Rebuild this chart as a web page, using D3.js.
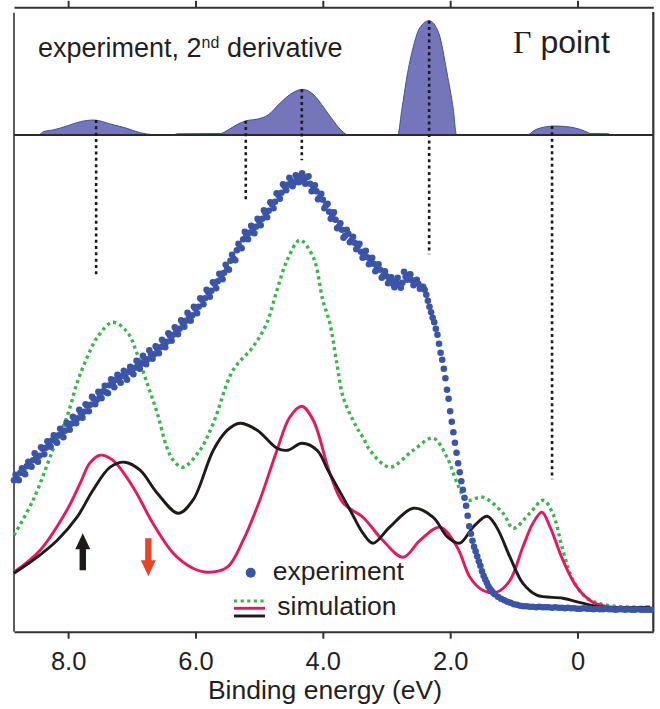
<!DOCTYPE html>
<html>
<head>
<meta charset="utf-8">
<script src="https://cdn.jsdelivr.net/npm/d3@7"></script>
<style>
  body { margin: 0; background: #fff; }
  text { font-family: "Liberation Sans", Arial, Helvetica, sans-serif; fill: #231f20; }
</style>
</head>
<body>
<div id="chart"></div>
<script>
// Axis ticks (binding energy, eV)
const xTicks = [8, 6, 4, 2, 0];
const xTickLabels = ["8.0", "6.0", "4.0", "2.0", "0"];

// Top panel: 2nd derivative of the experiment [energy, arb. units]
const secondDerivative = [
  [8.60, 0], [8.46, 0], [8.39, 2.9], [8.24, 4.3], [8.02, 7.8], [7.81, 11.6], [7.59, 13.0],
  [7.34, 9.6], [7.08, 5.8], [6.87, 2.0], [6.68, 0.3], [6.60, 0], [6.35, 0], [6.29, 1.0],
  [5.61, 1.3], [5.49, 4.3], [5.36, 8.7], [5.20, 12.4], [5.02, 13.9], [4.86, 17.4],
  [4.67, 27.8], [4.48, 36.5], [4.32, 39.7], [4.14, 34.8], [3.98, 23.5], [3.82, 11.3],
  [3.70, 3.5], [3.60, 0], [2.825, 0], [2.76, 21.7], [2.68, 50.4], [2.58, 76.5], [2.48, 93.0],
  [2.33, 99.4], [2.18, 88.7], [2.05, 53.9], [1.95, 21.7], [1.90, 0], [0.79, 0], [0.67, 4.3],
  [0.51, 7.0], [0.36, 7.8], [0.20, 7.4], [0.04, 6.1], [-0.11, 3.5], [-0.21, 1.3],
  [-0.48, 1.1], [-0.54, 0], [-1.19, 0]
];

// Peaks marked by dotted lines: energy, height in top panel, lower end in main panel
const peakEnergy = [7.56, 5.21, 4.33, 2.33, 0.40];
const peakHeight = [13.0, 12.4, 39.7, 99.4, 7.8];
const peakLineEnd = [71.1, 85.8, 94.3, 75.5, 30.5];

// Experiment (blue dots) [energy, intensity]
const experiment = [
  [8.85,30.3],[8.80,30.6],[8.75,31.8],[8.70,32.0],[8.65,33.1],[8.60,33.2],[8.55,34.3],[8.50,34.9],
  [8.45,35.2],[8.40,36.6],[8.35,36.8],[8.30,37.4],[8.25,38.3],[8.20,38.2],[8.15,39.3],[8.10,39.6],
  [8.05,40.2],[8.00,41.4],[7.95,41.6],[7.90,42.5],[7.85,42.7],[7.80,43.8],[7.75,44.0],[7.70,45.2],
  [7.65,45.4],[7.60,46.6],[7.55,46.4],[7.50,47.3],[7.45,48.1],[7.40,47.9],[7.35,49.3],[7.30,49.6],
  [7.25,50.4],[7.20,50.3],[7.15,51.2],[7.10,51.0],[7.05,52.0],[7.00,51.9],[6.95,52.8],[6.90,53.4],
  [6.85,53.7],[6.80,54.6],[6.75,54.5],[6.70,55.6],[6.65,55.5],[6.60,56.6],[6.55,56.9],[6.50,57.8],
  [6.45,58.0],[6.40,59.2],[6.35,59.4],[6.30,60.3],[6.25,60.6],[6.20,61.7],[6.15,62.2],[6.10,63.0],
  [6.05,63.3],[6.00,64.6],[5.95,65.0],[5.90,66.4],[5.85,66.7],[5.80,67.9],[5.75,68.2],[5.70,69.6],
  [5.65,70.1],[5.60,71.2],[5.55,71.8],[5.50,72.6],[5.45,74.2],[5.40,74.6],[5.35,76.3],[5.30,76.9],
  [5.25,78.5],[5.20,79.3],[5.15,79.8],[5.10,80.6],[5.05,81.0],[5.00,82.1],[4.95,82.6],[4.90,83.7],
  [4.85,84.2],[4.80,85.5],[4.75,86.0],[4.70,87.4],[4.65,87.8],[4.60,89.1],[4.55,89.4],[4.50,90.2],
  [4.45,89.8],[4.40,90.6],[4.35,91.2],[4.30,90.4],[4.25,90.9],[4.20,89.6],[4.15,88.6],[4.10,88.1],
  [4.05,86.9],[4.00,86.4],[3.95,85.3],[3.90,84.0],[3.85,83.3],[3.80,82.4],[3.75,81.0],[3.70,80.4],
  [3.65,79.2],[3.60,79.6],[3.55,78.3],[3.50,77.8],[3.45,77.2],[3.40,76.0],[3.35,75.6],[3.30,74.9],
  [3.25,74.1],[3.20,73.6],[3.15,72.6],[3.10,72.4],[3.05,71.2],[3.00,71.1],[2.95,70.4],[2.90,69.6],
  [2.85,70.2],[2.80,69.4],[2.75,69.8],[2.70,71.0],[2.65,71.4],[2.60,70.3],[2.55,69.9],[2.50,69.6],
  [2.45,69.0],[2.40,68.4],[2.375,67.4],[2.35,66.2],[2.325,65.0],[2.30,63.9],[2.275,62.8],[2.25,61.9],
  [2.225,60.6],[2.20,59.4],[2.175,57.6],[2.15,55.8],[2.125,54.4],[2.10,52.6],[2.075,50.7],[2.05,48.4],
  [2.025,46.6],[2.00,44.1],[1.975,42.0],[1.95,39.9],[1.925,37.8],[1.90,35.8],[1.875,33.7],[1.85,31.9],
  [1.825,30.1],[1.80,28.4],[1.775,26.8],[1.75,25.2],[1.725,23.2],[1.70,21.1],[1.675,19.6],[1.65,18.2],
  [1.625,17.0],[1.60,16.1],[1.575,15.1],[1.55,14.1],[1.525,13.2],[1.50,12.1],[1.475,11.2],[1.45,10.5],
  [1.425,9.8],[1.40,9.1],[1.375,8.6],[1.35,8.2],[1.325,7.8],[1.30,7.5],[1.25,7.0],[1.20,6.6],
  [1.15,6.3],[1.10,6.0],[1.05,5.8],[1.00,5.5],[0.95,5.4],[0.90,5.2],[0.85,5.1],[0.80,5.1],
  [0.75,5.0],[0.70,5.0],[0.65,4.9],[0.60,5.0],[0.55,4.9],[0.50,4.9],[0.45,4.9],[0.40,4.8],
  [0.35,4.9],[0.30,4.8],[0.25,4.8],[0.20,4.7],[0.15,4.8],[0.10,4.7],[0.05,4.7],[0.00,4.6],
  [-0.05,4.6],[-0.10,4.7],[-0.15,4.6],[-0.20,4.6],[-0.25,4.5],[-0.30,4.6],[-0.35,4.5],[-0.40,4.5],
  [-0.45,4.6],[-0.50,4.5],[-0.55,4.5],[-0.60,4.4],[-0.65,4.5],[-0.70,4.5],[-0.75,4.4],[-0.80,4.5],
  [-0.85,4.4],[-0.90,4.4],[-0.95,4.5],[-1.00,4.4],[-1.05,4.4],[-1.10,4.4],[-1.15,4.4]
];

// Experiment, in-between points that give the scatter band its width [energy, intensity]
const experimentScatter = [
  [8.825,31.4],[8.775,30.3],[8.725,32.7],[8.675,31.5],[8.625,34.0],[8.575,33.0],[8.525,35.7],[8.475,34.0],
  [8.425,36.9],[8.375,35.5],[8.325,38.1],[8.275,37.0],[8.225,39.3],[8.175,37.8],[8.125,40.6],[8.075,38.9],
  [8.025,41.8],[7.975,40.4],[7.925,43.0],[7.875,41.7],[7.825,44.4],[7.775,42.8],[7.725,45.5],[7.675,44.1],
  [7.625,47.0],[7.575,45.5],[7.525,48.0],[7.475,46.7],[7.425,49.2],[7.375,47.7],[7.325,50.5],[7.275,48.9],
  [7.225,51.4],[7.175,49.8],[7.125,52.2],[7.075,50.4],[7.025,53.0],[6.975,51.5],[6.925,54.2],[6.875,52.6],
  [6.825,55.2],[6.775,53.5],[6.725,56.3],[6.675,54.6],[6.625,57.1],[6.575,55.7],[6.525,58.4],[6.475,56.9],
  [6.425,59.7],[6.375,58.2],[6.325,60.9],[6.275,59.5],[6.225,62.3],[6.175,61.0],[6.125,63.8],[6.075,62.2],
  [6.025,65.0],[5.975,63.7],[5.925,66.7],[5.875,65.5],[5.825,68.4],[5.775,67.0],[5.725,69.9],[5.675,68.7],
  [5.625,71.6],[5.575,70.5],[5.525,73.4],[5.475,72.4],[5.425,75.4],[5.375,74.3],[5.325,77.6],[5.275,76.7],
  [5.225,80.0],[5.175,78.5],[5.125,81.2],[5.075,79.7],[5.025,82.6],[4.975,81.3],[4.925,84.3],[4.875,82.9],
  [4.825,85.9],[4.775,84.7],[4.725,87.7],[4.675,86.6],[4.625,89.5],[4.575,88.3],[4.525,90.8],[4.475,89.1],
  [4.425,91.3],[4.375,89.9],[4.325,91.7],[4.275,89.6],[4.225,91.1],[4.175,88.1],[4.125,89.3],[4.075,86.5],
  [4.025,87.6],[3.975,84.7],[3.925,85.6],[3.875,82.6],[3.825,83.9],[3.775,80.7],[3.725,81.7],[3.675,78.8],
  [3.625,80.4],[3.575,77.9],[3.525,79.0],[3.475,76.5],[3.425,77.6],[3.375,74.8],[3.325,76.2],[3.275,73.5],
  [3.225,74.8],[3.175,72.1],[3.125,73.5],[3.075,70.8],[3.025,72.1],[2.975,69.7],[2.925,70.9],[2.875,68.9],
  [2.825,70.8],[2.775,68.8],[2.725,72.0],[2.675,70.4],[2.625,71.5],[2.575,69.3],[2.525,70.4],[2.475,68.6],
  [2.425,69.0]
];

// Simulations [energy, intensity]
const simGreen = [
  [8.85,19.3],[8.55,26.3],[8.24,36.3],[8.02,42.9],[7.86,49.7],[7.70,54.9],[7.54,58.9],[7.30,61.9],
  [7.07,59.9],[6.92,55.7],[6.76,49.7],[6.60,43.7],[6.45,36.9],[6.35,34.3],[6.20,32.9],[5.93,36.3],
  [5.72,41.7],[5.41,52.3],[5.10,56.9],[4.88,61.7],[4.72,68.3],[4.56,74.3],[4.36,78.3],[4.15,74.9],
  [4.00,66.3],[3.89,61.7],[3.78,53.7],[3.68,46.9],[3.47,40.9],[3.37,38.9],[3.26,36.3],[2.95,32.9],
  [2.58,36.3],[2.27,38.7],[2.05,34.9],[1.89,29.7],[1.74,26.3],[1.49,26.9],[1.17,23.7],[1.01,20.7],
  [0.75,23.7],[0.54,26.3],[0.39,23.7],[0.23,16.3],[0.07,10.3],[-0.15,6.7],[-0.46,5.3],[-1.14,4.9]
];
const simPink = [
  [8.85,11.9],[8.44,16.3],[8.02,24.3],[7.81,29.7],[7.66,33.7],[7.50,35.3],[7.30,34.3],[6.98,28.9],
  [6.67,21.7],[6.35,15.7],[6.04,12.7],[5.80,11.9],[5.50,12.9],[5.25,18.3],[4.99,26.3],[4.72,36.3],
  [4.52,42.9],[4.33,45.1],[4.15,42.3],[3.89,31.7],[3.68,25.7],[3.37,22.9],[3.06,18.3],[2.74,14.9],
  [2.47,18.3],[2.16,20.9],[1.89,16.9],[1.69,10.9],[1.49,8.3],[1.27,7.9],[1.06,10.3],[0.86,16.9],
  [0.70,21.7],[0.56,23.9],[0.43,20.9],[0.23,14.3],[0.01,8.9],[-0.24,5.9],[-0.55,4.9],[-1.14,4.9]
];
const simBlack = [
  [8.85,11.7],[8.55,14.3],[8.17,18.3],[7.86,22.9],[7.61,28.3],[7.34,32.9],[7.11,33.9],[6.87,32.3],
  [6.60,27.7],[6.27,23.7],[6.04,26.3],[5.72,36.3],[5.50,40.3],[5.30,41.7],[5.03,40.3],[4.72,36.7],
  [4.55,36.3],[4.33,37.7],[4.09,36.3],[3.92,32.3],[3.57,24.3],[3.37,19.7],[3.21,17.7],[2.95,20.9],
  [2.58,24.7],[2.27,22.9],[2.04,18.9],[1.85,17.7],[1.64,20.9],[1.42,23.1],[1.27,20.9],[1.06,14.9],
  [0.86,9.7],[0.64,7.3],[0.23,6.7],[-0.08,5.7],[-0.40,4.9],[-1.14,4.9]
];

// Arrow annotations: energy, tail intensity, tip intensity
const arrows = [
  { e: 7.77, from: 12.3, to: 19.7, color: "#1f1a17" },
  { e: 6.74, from: 18.7, to: 11.1, color: "#e8442a" }
];

const W = 660, H = 709;
const svg = d3.select("#chart").append("svg").attr("width", W).attr("height", H);

const x = d3.scaleLinear().domain([8.85, -1.19]).range([14, 653.3]);
const y = d3.scaleLinear().domain([0, 100]).range([631.7, 131.7]);
const yTop = d3.scaleLinear().domain([0, 100]).range([135, 20]);

// Top panel: 2nd derivative filled
const area = d3.area()
  .x(d => x(d[0])).y0(yTop(0)).y1(d => yTop(d[1]))
  .curve(d3.curveMonotoneX);
svg.append("path").datum(secondDerivative)
  .attr("d", area)
  .attr("fill", "#7476b9")
  .attr("stroke", "#3d4f9f")
  .attr("stroke-width", 1);

// Top panel baseline
svg.append("line")
  .attr("x1", 14).attr("x2", 653.3).attr("y1", yTop(0)).attr("y2", yTop(0))
  .attr("stroke", "#2b2b2b").attr("stroke-width", 1.8);

// Frame sides
svg.append("line").attr("x1", 14).attr("x2", 14).attr("y1", 12.7).attr("y2", 631.7)
  .attr("stroke", "#333").attr("stroke-width", 1.6);
svg.append("line").attr("x1", 653.3).attr("x2", 653.3).attr("y1", 12).attr("y2", 631.7)
  .attr("stroke", "#333").attr("stroke-width", 2.2);

// Axes
const bottomAxis = svg.append("g").attr("transform", "translate(0,631.7)")
  .call(d3.axisBottom(x).tickValues(xTicks).tickFormat((d, i) => xTickLabels[i]).tickSize(7).tickSizeOuter(0));
const topAxis = svg.append("g").attr("transform", "translate(0,7.3)")
  .call(d3.axisTop(x).tickValues(xTicks).tickFormat("").tickSize(6.5).tickSizeOuter(0));
[bottomAxis, topAxis].forEach(g => {
  g.select(".domain").attr("stroke", "#333").attr("stroke-width", 2);
  g.selectAll(".tick line").attr("stroke", "#333").attr("stroke-width", 2);
});
bottomAxis.selectAll(".tick text")
  .attr("y", 38.5).attr("dy", null)
  .style("font-size", "25.5px")
  .style("font-family", "'Liberation Sans', Arial, sans-serif")
  .attr("fill", "#231f20");

svg.append("text")
  .attr("x", 325).attr("y", 699)
  .attr("text-anchor", "middle")
  .style("font-size", "26.5px")
  .text("Binding energy (eV)");

// Dotted peak markers
peakEnergy.forEach((e, i) => {
  svg.append("line")
    .attr("x1", x(e)).attr("x2", x(e))
    .attr("y1", yTop(peakHeight[i])).attr("y2", y(peakLineEnd[i]))
    .attr("stroke", "#1a1a1a").attr("stroke-width", 2.6)
    .attr("stroke-dasharray", "3,3.3");
});

// Simulation curves
const line = d3.line()
  .x(d => x(d[0])).y(d => y(d[1]))
  .curve(d3.curveCatmullRom.alpha(0.5));

svg.append("path").datum(simGreen).attr("d", line)
  .attr("fill", "none").attr("stroke", "#3cb54a").attr("stroke-width", 3.4)
  .attr("stroke-dasharray", "3.2,3.4");
svg.append("path").datum(simPink).attr("d", line)
  .attr("fill", "none").attr("stroke", "#e8175d").attr("stroke-width", 2.9);
svg.append("path").datum(simBlack).attr("d", line)
  .attr("fill", "none").attr("stroke", "#1f1a17").attr("stroke-width", 2.9);

// Experiment dots
svg.append("g").selectAll("circle")
  .data(experiment.concat(experimentScatter)).enter()
  .append("circle")
  .attr("cx", d => x(d[0])).attr("cy", d => y(d[1]))
  .attr("r", 3.3)
  .attr("fill", "#3a55a8");

// Arrows
arrows.forEach(a => {
  const cx = x(a.e), y0 = y(a.from), y1 = y(a.to);
  const s = Math.sign(y1 - y0), hl = 16, hw = 7.5, sw = 3.2;
  const yb = y1 - s * hl;
  const pts = [[cx - sw, y0], [cx - sw, yb], [cx - hw, yb], [cx, y1], [cx + hw, yb], [cx + sw, yb], [cx + sw, y0]];
  svg.append("path").attr("d", d3.line()(pts) + "Z").attr("fill", a.color);
});

// Title text in top panel
const title = svg.append("text").attr("x", 38).attr("y", 57).style("font-size", "27px");
title.append("tspan").text("experiment, 2");
title.append("tspan").attr("dy", -9).style("font-size", "16px").text("nd");
title.append("tspan").attr("dy", 9).text(" derivative");

const gamma = svg.append("text").attr("x", 513).attr("y", 53).style("font-size", "32px");
gamma.append("tspan").style("font-family", "'Liberation Serif', 'Times New Roman', serif").text("Γ");
gamma.append("tspan").text(" point");

// Legend
svg.append("circle").attr("cx", 250.7).attr("cy", 572.7).attr("r", 5).attr("fill", "#3a55a8");
svg.append("text").attr("x", 272.7).attr("y", 580).style("font-size", "26.5px").text("experiment");
svg.append("line").attr("x1", 234).attr("x2", 265).attr("y1", 601).attr("y2", 601)
  .attr("stroke", "#3cb54a").attr("stroke-width", 3.2).attr("stroke-dasharray", "3.2,3.4");
svg.append("line").attr("x1", 234).attr("x2", 265).attr("y1", 608.3).attr("y2", 608.3)
  .attr("stroke", "#e8175d").attr("stroke-width", 2.9);
svg.append("line").attr("x1", 234).attr("x2", 265).attr("y1", 616).attr("y2", 616)
  .attr("stroke", "#1f1a17").attr("stroke-width", 2.9);
svg.append("text").attr("x", 277.3).attr("y", 615).style("font-size", "26.5px").text("simulation");
</script>
</body>
</html>
